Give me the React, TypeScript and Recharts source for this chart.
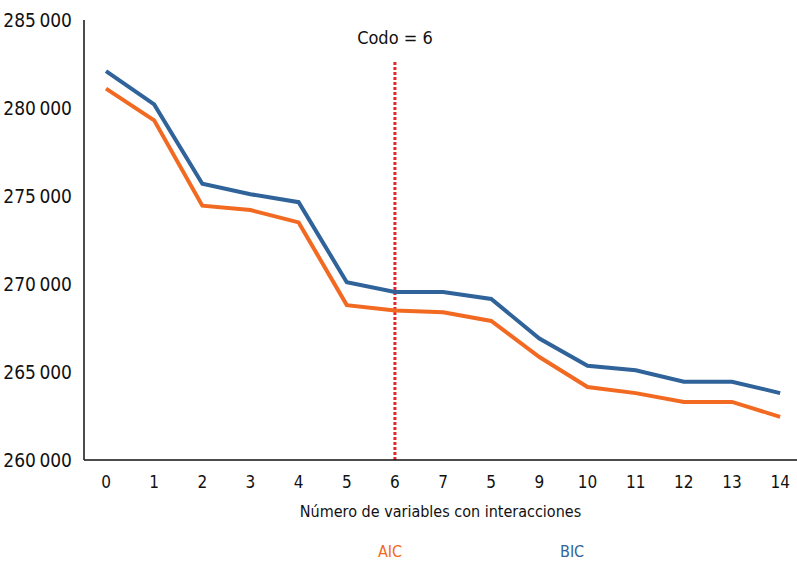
import { LineChart, Line, XAxis, YAxis, ReferenceLine, Legend } from 'recharts'

const tickLabels = ['0', '1', '2', '3', '4', '5', '6', '7', '5', '9', '10', '11', '12', '13', '14']
const aicValues = [281100, 279300, 274450, 274200, 273500, 268800, 268500, 268400, 267900, 265850, 264150, 263800, 263300, 263300, 262450]
const bicValues = [282100, 280200, 275700, 275100, 274650, 270100, 269550, 269550, 269150, 266900, 265350, 265100, 264450, 264450, 263800]
const yTicks = [260000, 265000, 270000, 275000, 280000, 285000]
const elbow = 6

const FONT = '"DejaVu Sans Condensed", "Liberation Sans Narrow", sans-serif'
const AIC_COLOR = '#F26A22'
const BIC_COLOR = '#2F6399'

const data = tickLabels.map((label, i) => ({
  idx: i,
  label,
  AIC: aicValues[i],
  BIC: bicValues[i],
}))

const formatY = (v: number) => {
  const s = String(v)
  return s.slice(0, s.length - 3) + '\u2009' + s.slice(-3)
}

const LegendContent = () => (
  <div style={{ position: 'relative', width: 797, height: 24, fontFamily: FONT, fontSize: 16 }}>
    <span style={{ position: 'absolute', left: 378, top: 4, color: AIC_COLOR }}>AIC</span>
    <span style={{ position: 'absolute', left: 560, top: 4, color: BIC_COLOR }}>BIC</span>
  </div>
)

export default function App() {
  return (
    <div style={{ position: 'absolute', left: 0, top: 0, background: '#fff' }}>
      <LineChart
        width={797}
        height={562}
        data={data}
        margin={{ top: 20, right: 0, left: 0, bottom: 48 }}
        style={{ fontFamily: FONT }}
      >
        <XAxis
          dataKey="idx"
          type="number"
          domain={[-0.457, 14.35]}
          ticks={data.map(d => d.idx)}
          tickFormatter={(v: number) => tickLabels[v]}
          tick={{ fill: '#111', fontSize: 17 }}
          tickLine={false}
          axisLine={{ stroke: '#111', strokeWidth: 1.5 }}
          tickMargin={10}
          height={30}
          interval={0}
          label={{ value: 'Número de variables con interacciones', position: 'bottom', offset: 16, fill: '#111', fontSize: 16 }}
        />
        <YAxis
          type="number"
          domain={[260000, 285000]}
          ticks={yTicks}
          tickFormatter={formatY}
          tick={{ fill: '#111', fontSize: 19 }}
          tickLine={false}
          axisLine={{ stroke: '#111', strokeWidth: 1.5 }}
          tickSize={6}
          tickMargin={6}
          width={84}
          interval={0}
        />
        <ReferenceLine
          segment={[{ x: elbow, y: 260000 }, { x: elbow, y: 282700 }]}
          stroke="#E8242A"
          strokeWidth={3}
          strokeDasharray="3 2"
          label={{ value: 'Codo = 6', position: 'top', offset: 16, fill: '#111', fontSize: 18 }}
        />
        <Line type="linear" dataKey="AIC" stroke={AIC_COLOR} strokeWidth={4} dot={false} isAnimationActive={false} />
        <Line type="linear" dataKey="BIC" stroke={BIC_COLOR} strokeWidth={4} dot={false} isAnimationActive={false} />
        <Legend content={<LegendContent />} verticalAlign="bottom" wrapperStyle={{ left: 0, bottom: 0 }} />
      </LineChart>
    </div>
  )
}
